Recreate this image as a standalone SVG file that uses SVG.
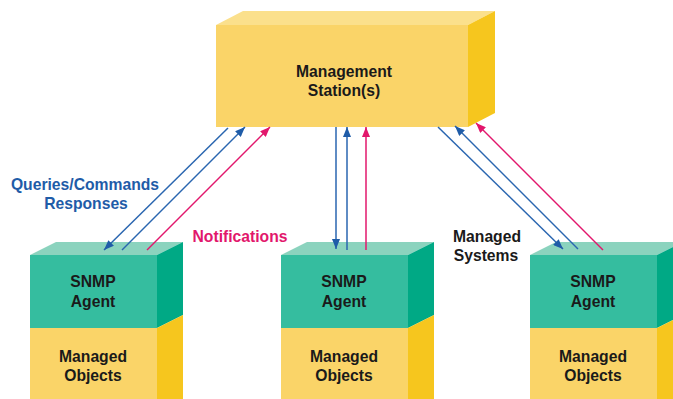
<svg xmlns="http://www.w3.org/2000/svg" width="673" height="399" viewBox="0 0 673 399">
<style>
.t{font-family:"Liberation Sans",Arial,sans-serif;font-weight:bold;font-size:15.7px;text-anchor:middle;fill:#1a1a1a}
.yf{fill:#fad468}.yt{fill:#fbe08c}.ys{fill:#f6c61e}
.gf{fill:#35bd9f}.gt{fill:#8bd3be}.gs{fill:#00a985}
.b{stroke:#2a66b0;stroke-width:1.5;fill:none}
.m{stroke:#e2176c;stroke-width:1.5;fill:none}
</style>
<defs>
<marker id="ab" viewBox="0 0 10 8" refX="10" refY="4" markerWidth="10" markerHeight="8" markerUnits="userSpaceOnUse" orient="auto"><path d="M0,0L10,4L0,8z" fill="#1f5ca8"/></marker>
<marker id="am" viewBox="0 0 10 8" refX="10" refY="4" markerWidth="10" markerHeight="8" markerUnits="userSpaceOnUse" orient="auto"><path d="M0,0L10,4L0,8z" fill="#e2176c"/></marker>
</defs>
<rect width="673" height="399" fill="#fff"/>
<g id="station">
<polygon class="yt" points="216,25 243,11 495,11 468,25"/>
<polygon class="ys" points="468,25 495,11 495,113 468,127"/>
<rect class="yf" x="216" y="25" width="252" height="102"/>
<text class="t" x="344" y="77">Management</text>
<text class="t" x="344" y="96">Station(s)</text>
</g>
<g id="agent1">
<polygon class="gt" points="30,255 56,242 183,242 157,255"/>
<polygon class="gs" points="157,255 183,242 183,315 157,328"/>
<polygon class="ys" points="157,328 183,315 183,399 157,399"/>
<rect class="gf" x="30" y="255" width="127" height="73"/>
<rect class="yf" x="30" y="328" width="127" height="71"/>
<text class="t" x="93" y="287">SNMP</text>
<text class="t" x="93" y="307">Agent</text>
<text class="t" x="93" y="362">Managed</text>
<text class="t" x="93" y="381">Objects</text>
</g>
<g id="agent2">
<polygon class="gt" points="281,255 307,242 434,242 408,255"/>
<polygon class="gs" points="408,255 434,242 434,315 408,328"/>
<polygon class="ys" points="408,328 434,315 434,399 408,399"/>
<rect class="gf" x="281" y="255" width="127" height="73"/>
<rect class="yf" x="281" y="328" width="127" height="71"/>
<text class="t" x="344" y="287">SNMP</text>
<text class="t" x="344" y="307">Agent</text>
<text class="t" x="344" y="362">Managed</text>
<text class="t" x="344" y="381">Objects</text>
</g>
<g id="agent3">
<polygon class="gt" points="530,255 556,242 683,242 657,255"/>
<polygon class="gs" points="657,255 683,242 683,315 657,328"/>
<polygon class="ys" points="657,328 683,315 683,399 657,399"/>
<rect class="gf" x="530" y="255" width="127" height="73"/>
<rect class="yf" x="530" y="328" width="127" height="71"/>
<text class="t" x="593" y="287">SNMP</text>
<text class="t" x="593" y="307">Agent</text>
<text class="t" x="593" y="362">Managed</text>
<text class="t" x="593" y="381">Objects</text>
</g>
<g id="connectors">
<line class="b" x1="228" y1="128" x2="104" y2="250" marker-end="url(#ab)"/>
<line class="b" x1="122" y1="250" x2="245" y2="127" marker-end="url(#ab)"/>
<line class="m" x1="147" y1="250" x2="270" y2="127" marker-end="url(#am)"/>
<line class="b" x1="336" y1="127" x2="336" y2="249" marker-end="url(#ab)"/>
<line class="b" x1="347" y1="250" x2="347" y2="127" marker-end="url(#ab)"/>
<line class="m" x1="366" y1="250" x2="366" y2="127" marker-end="url(#am)"/>
<line class="b" x1="438" y1="127" x2="563" y2="249" marker-end="url(#ab)"/>
<line class="b" x1="578" y1="249" x2="455" y2="126" marker-end="url(#ab)"/>
<line class="m" x1="603" y1="250" x2="476" y2="123" marker-end="url(#am)"/>
</g>
<g id="labels">
<text class="t" x="85" y="190" style="fill:#1f5ca8">Queries/Commands</text>
<text class="t" x="86" y="209" style="fill:#1f5ca8">Responses</text>
<text class="t" x="240" y="242" style="fill:#e2176c">Notifications</text>
<text class="t" x="487" y="242">Managed</text>
<text class="t" x="486" y="261">Systems</text>
</g>
</svg>
